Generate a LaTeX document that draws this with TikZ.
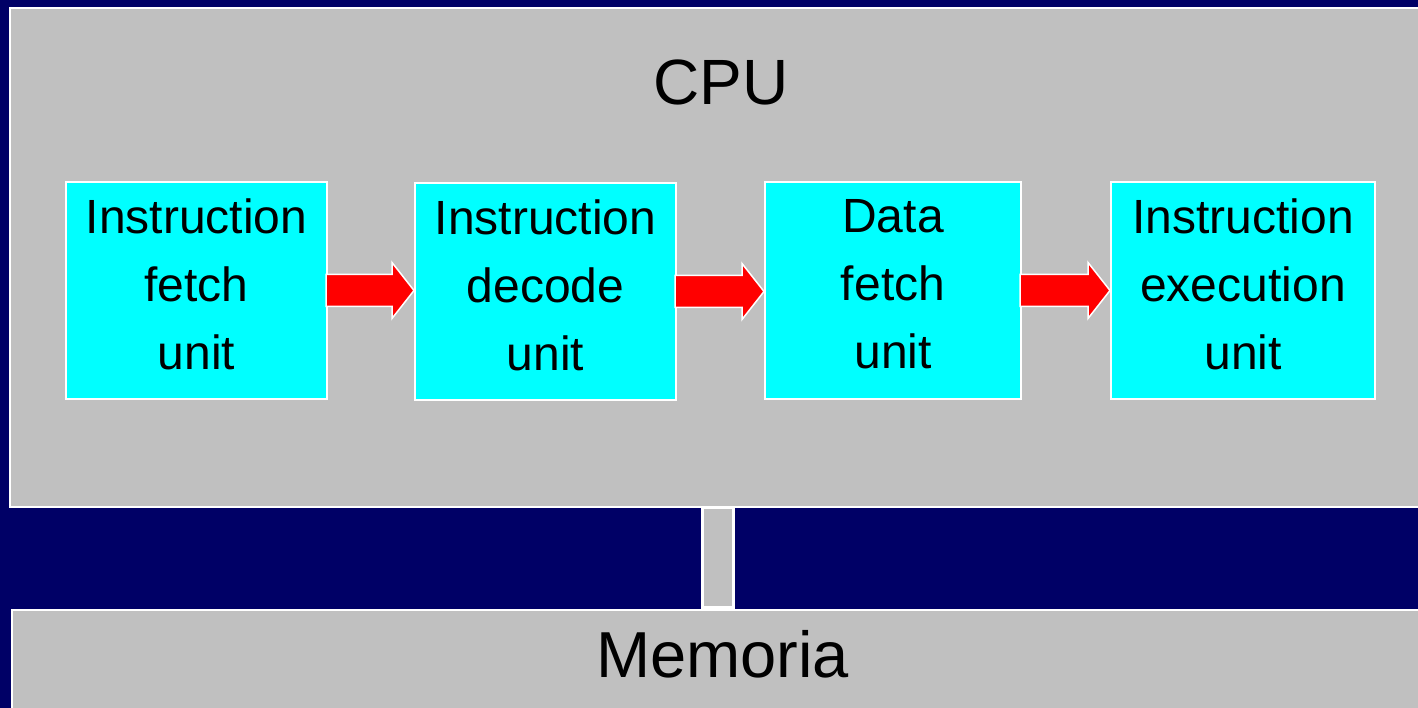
\documentclass[tikz,border=0pt]{standalone}
\usepackage{fontspec}
\setmainfont{Liberation Sans}
\usetikzlibrary{calc}
\definecolor{navy}{RGB}{0,0,102}
\definecolor{panelgray}{RGB}{192,192,192}
\definecolor{unitcyan}{RGB}{0,255,255}
\definecolor{arrowred}{RGB}{255,0,0}
\tikzset{
  panel/.style={fill=panelgray, draw=white, line width=2.5pt},
  unitbox/.style={fill=unitcyan, draw=white, line width=2pt, align=center,
    inner sep=0pt, font=\fontsize{48}{68}\selectfont},
  redarrow/.style={fill=arrowred, draw=white, line width=1.5pt, line join=miter},
  bigtext/.style={anchor=base, inner sep=0pt},
}
\newcommand{\lastline}{\rule[-13pt]{0pt}{0pt}}
\begin{document}
\begin{tikzpicture}[x=1pt,y=-1pt]
\useasboundingbox (0,0) rectangle (1418,708);
\clip (0,0) rectangle (1418,708);
\fill[navy] (0,0) rectangle (1418,708);
% panels
\draw[panel] (10,8) rectangle (1430,507);
\draw[panel] (12,610) rectangle (1430,720);
\node[panel, minimum width=31pt, minimum height=100pt, inner sep=0pt] (bus) at (718,557.5) {};
\node[bigtext, font=\fontsize{64}{70}\selectfont] (cpu) at (721,105) {CPU};
\node[bigtext, font=\fontsize{65}{70}\selectfont] (mem) at (722.5,677) {Memoria};
% units
\node[unitbox, minimum width=261pt, minimum height=217pt] (u1) at (196.5,290.5) {Instruction\\fetch\\unit\lastline};
\node[unitbox, minimum width=261pt, minimum height=217pt] (u2) at (545.5,291.5) {Instruction\\decode\\unit\lastline};
\node[unitbox, minimum width=256pt, minimum height=217pt] (u3) at (893,290.5) {Data\\fetch\\unit\lastline};
\node[unitbox, minimum width=264pt, minimum height=217pt] (u4) at (1243,290.5) {Instruction\\execution\\unit\lastline};
% arrows
\foreach \a/\b in {u1/u2, u2/u3, u3/u4}{
  \coordinate (m) at (\a.east -| \b.west);
  \draw[redarrow] ($(\a.east)+(-2,-16)$) -- ($(m)+(-22,-16)$) -- ($(m)+(-22,-28)$)
    -- (m) -- ($(m)+(-22,28)$) -- ($(m)+(-22,16)$) -- ($(\a.east)+(-2,16)$) -- cycle;
}
\end{tikzpicture}
\end{document}
